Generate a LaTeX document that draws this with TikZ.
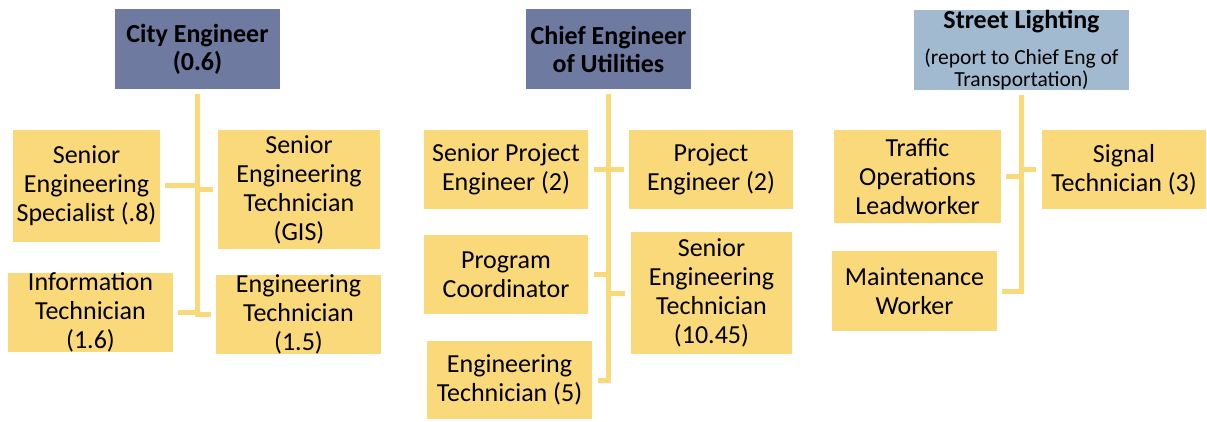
\documentclass[tikz,border=0pt]{standalone}
\usepackage{fontspec}
\setmainfont{Carlito}
\usepackage{xcolor}
\definecolor{orggold}{RGB}{250,217,123}
\definecolor{orgslate}{RGB}{111,122,160}
\definecolor{orgsky}{RGB}{162,186,208}

\begin{document}
\begin{tikzpicture}[
  x=1pt, y=-1pt,
  font=\fontsize{26}{29}\selectfont,
  box/.style={
    fill=orggold, align=center,
    inner xsep=0pt, inner ysep=0pt
  },
  sz/.style 2 args={minimum width=#1pt, minimum height=#2pt},
  head/.style={box, fill=orgslate, sz={165}{80},
    font=\fontsize{26}{28}\selectfont\bfseries},
  link/.style={draw=orggold, line width=5pt},
  spine/.style={link, line cap=rect},
]
\useasboundingbox (0,0) rectangle (1207,422);

% City Engineer group
\node[head] (ce) at (197.5,49) {City Engineer\\(0.6)};
\node[box, sz={147}{112}] (sesp)  at (86.5,186)   {Senior\\Engineering\\Specialist (.8)};
\node[box, sz={162}{119}] (gis)   at (299,189.5)  {Senior\\Engineering\\Technician\\(GIS)};
\node[box, sz={165}{79}]  (itech) at (90.5,312.5) {Information\\Technician\\(1.6)};
\node[box, sz={165}{79}]  (etech) at (298.5,314.5) {Engineering\\Technician\\(1.5)};

% Chief Engineer of Utilities group
\node[head] (cu) at (608.5,49) {Chief Engineer\\of Utilities};
\node[box, sz={164}{79}]  (spe)    at (506,169.5) {Senior Project\\Engineer (2)};
\node[box, sz={164}{79}]  (pe)     at (711,169.5) {Project\\Engineer (2)};
\node[box, sz={164}{79}]  (pc)     at (506,274.5) {Program\\Coordinator};
\node[box, sz={161}{122}] (setech) at (711.5,293) {Senior\\Engineering\\Technician\\(10.45)};
\node[box, sz={165}{78}]  (et5)    at (509.5,380) {Engineering\\Technician (5)};

% Street Lighting group
\node[head, fill=orgsky, sz={215}{80}, font=\fontsize{21.5}{22}\selectfont] (sl) at (1021.5,50)
  {{\fontsize{26}{28}\selectfont\bfseries Street Lighting}\\[14pt](report to Chief Eng of\\Transportation)};
\node[box, sz={167}{93}] (tol) at (917.5,176.5) {Traffic\\Operations\\Leadworker};
\node[box, sz={164}{79}] (sig) at (1124,169.5)  {Signal\\Technician (3)};
\node[box, sz={165}{80}] (mw)  at (914.5,291)   {Maintenance\\Worker};

% spines down from each head
\draw[spine] ([yshift=-7.5pt]ce.south) -- (ce.south |- etech.west);
\draw[spine] ([yshift=-7.5pt]cu.south) -- (cu.south |- et5.east);
\draw[spine] ([yshift=-7.5pt]sl.south) -- (sl.south |- mw.east);

% stubs into the spines
\draw[link] ([xshift=5pt]sesp.east)   -- (sesp.east -| ce.south);
\draw[link] ([xshift=-5pt]gis.west)   -- (gis.west -| ce.south);
\draw[link] ([xshift=5pt]itech.east)  -- (itech.east -| ce.south);
\draw[link] ([xshift=-5pt]etech.west) -- (etech.west -| ce.south);

\draw[link] ([xshift=6pt]spe.east)     -- (spe.east -| cu.south);
\draw[link] ([xshift=-5pt]pe.west)     -- (pe.west -| cu.south);
\draw[link] ([xshift=6pt]pc.east)      -- (pc.east -| cu.south);
\draw[link] ([xshift=-6pt]setech.west) -- (setech.west -| cu.south);
\draw[link] ([xshift=6pt]et5.east)     -- (et5.east -| cu.south);

\draw[link] ([xshift=5pt]tol.east)  -- (tol.east -| sl.south);
\draw[link] ([xshift=-6pt]sig.west) -- (sig.west -| sl.south);
\draw[link] ([xshift=5pt]mw.east)   -- (mw.east -| sl.south);
\end{tikzpicture}
\end{document}
